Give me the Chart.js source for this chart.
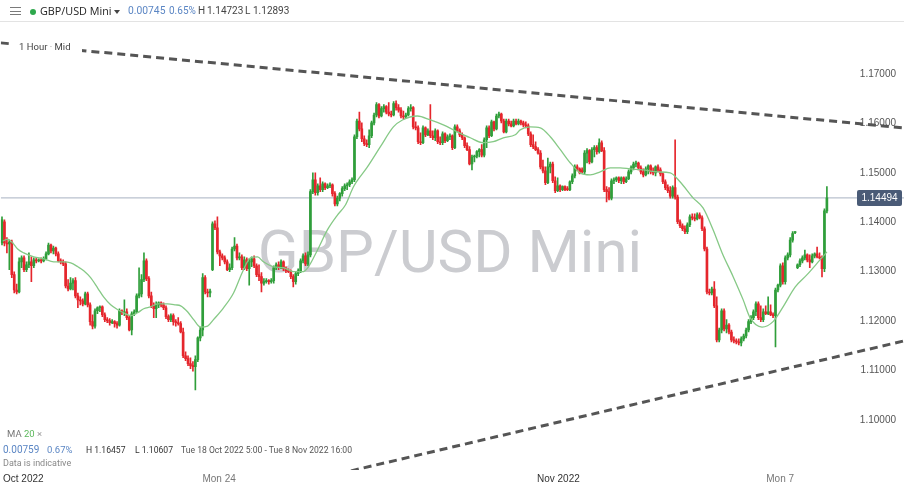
<!DOCTYPE html>
<html>
<head>
<meta charset="utf-8">
<script src="https://cdn.jsdelivr.net/npm/chart.js@4.4.0/dist/chart.umd.min.js"></script>
<style>
  html, body { margin: 0; padding: 0; background: #fff; }
  #wrap { position: relative; width: 904px; height: 488px; overflow: hidden; font-family: Roboto, "Open Sans", sans-serif; }
  #chart { position: absolute; left: 0; top: 0; }
  .abs { position: absolute; white-space: nowrap; }
  #head { left: 0; top: 0; width: 904px; height: 21px; border-bottom: 1px solid #e3e3e3; background: #fff; }
  .bar { position: absolute; left: 10px; width: 11px; height: 1.4px; background: #7a7a7a; }
  .hd { top: 0; line-height: 22px; font-size: 10px; color: #444; }
  .ft { font-size: 8.6px; color: #555; line-height: 12px; }
  .blue { color: #5b86c4; }
</style>
</head>
<body>
<div id="wrap">
  <canvas id="chart" width="904" height="488"></canvas>

  <div id="head" class="abs">
    <div class="bar" style="top:7px"></div>
    <div class="bar" style="top:10.5px"></div>
    <div class="bar" style="top:14px"></div>
    <div class="abs" style="left:29.5px;top:8.5px;width:6px;height:6px;border-radius:50%;background:#2ea84c"></div>
    <div class="abs hd" style="left:40px;color:#222;font-weight:500;font-size:10.8px;font-family:'Open Sans',sans-serif">GBP/USD Mini</div>
    <div class="abs" style="left:114px;top:10px;width:0;height:0;border-left:3px solid transparent;border-right:3px solid transparent;border-top:4px solid #444"></div>
    <div class="abs hd blue" style="left:128px;font-size:10.3px">0.00745</div>
    <div class="abs hd blue" style="left:169px">0.65%</div>
    <div class="abs hd" style="left:198px">H</div>
    <div class="abs hd" style="left:207px">1.14723</div>
    <div class="abs hd" style="left:245px">L</div>
    <div class="abs hd" style="left:253px">1.12893</div>
  </div>

  <div class="abs" style="left:12px;top:39px;width:70px;height:14px;background:#fff"></div>
  <div class="abs" style="left:19px;top:41px;font-size:9.5px;line-height:12px;color:#444">1 Hour <span style="color:#888">·</span> Mid</div>

  <div class="abs ft" style="left:7px;top:428px;font-size:9.5px;color:#777">MA <span style="color:#5cb85c">20</span> <span style="color:#999">×</span></div>
  <div class="abs ft blue" style="left:3px;top:444px;font-size:10px">0.00759</div>
  <div class="abs ft blue" style="left:47px;top:444px;font-size:9.5px">0.67%</div>
  <div class="abs ft" style="left:86px;top:444px;color:#333">H 1.16457</div>
  <div class="abs ft" style="left:135px;top:444px;color:#333">L 1.10607</div>
  <div class="abs ft" style="left:181px;top:444px">Tue 18 Oct 2022 5:00 - Tue 8 Nov 2022 16:00</div>
  <div class="abs ft" style="left:3px;top:457px;color:#888;font-size:9px">Data is indicative</div>
</div>

<script>
// Hourly candles, Tue 18 Oct 2022 → Mon 7 Nov 2022
var opens = [1.1358,1.1401,1.1358,1.1356,1.1360,1.1294,1.1263,1.1259,1.1320,1.1328,
  1.1304,1.1314,1.1320,1.1312,1.1324,1.1322,1.1324,1.1322,1.1326,1.1336,
  1.1354,1.1342,1.1348,1.1336,1.1322,1.1320,1.1316,1.1271,1.1265,1.1277,
  1.1282,1.1251,1.1243,1.1241,1.1235,1.1255,1.1233,1.1199,1.1190,1.1221,
  1.1227,1.1229,1.1213,1.1203,1.1201,1.1197,1.1199,1.1195,1.1192,1.1221,
  1.1217,1.1219,1.1207,1.1182,1.1215,1.1219,1.1251,1.1255,1.1284,1.1322,
  1.1286,1.1251,1.1231,1.1225,1.1233,1.1237,1.1233,1.1227,1.1209,1.1203,
  1.1211,1.1199,1.1197,1.1195,1.1178,1.1130,1.1124,1.1114,1.1110,1.1108,
  1.1122,1.1166,1.1182,1.1288,1.1259,1.1257,1.1304,1.1397,1.1389,1.1340,
  1.1332,1.1328,1.1320,1.1304,1.1308,1.1346,1.1352,1.1328,1.1330,1.1308,
  1.1324,1.1306,1.1320,1.1326,1.1312,1.1294,1.1290,1.1277,1.1280,1.1282,
  1.1280,1.1282,1.1308,1.1314,1.1308,1.1320,1.1306,1.1302,1.1300,1.1290,
  1.1280,1.1296,1.1302,1.1322,1.1332,1.1316,1.1334,1.1462,1.1486,1.1460,
  1.1474,1.1466,1.1478,1.1470,1.1474,1.1476,1.1458,1.1437,1.1449,1.1458,
  1.1468,1.1474,1.1476,1.1482,1.1486,1.1573,1.1605,1.1589,1.1569,1.1559,
  1.1557,1.1575,1.1601,1.1617,1.1638,1.1615,1.1630,1.1634,1.1623,1.1619,
  1.1617,1.1640,1.1632,1.1627,1.1615,1.1613,1.1617,1.1630,1.1632,1.1593,
  1.1591,1.1563,1.1561,1.1591,1.1577,1.1585,1.1575,1.1571,1.1585,1.1563,
  1.1561,1.1579,1.1565,1.1573,1.1575,1.1551,1.1593,1.1585,1.1577,1.1571,
  1.1555,1.1547,1.1518,1.1532,1.1534,1.1543,1.1547,1.1536,1.1567,1.1591,
  1.1575,1.1603,1.1589,1.1615,1.1619,1.1605,1.1583,1.1605,1.1599,1.1595,
  1.1605,1.1599,1.1605,1.1601,1.1597,1.1595,1.1579,1.1557,1.1553,1.1547,
  1.1540,1.1512,1.1504,1.1480,1.1512,1.1518,1.1484,1.1464,1.1474,1.1466,
  1.1472,1.1468,1.1466,1.1482,1.1494,1.1512,1.1508,1.1506,1.1502,1.1540,
  1.1545,1.1522,1.1547,1.1551,1.1543,1.1561,1.1545,1.1466,1.1462,1.1449,
  1.1484,1.1486,1.1490,1.1484,1.1490,1.1482,1.1488,1.1502,1.1510,1.1518,
  1.1520,1.1510,1.1502,1.1496,1.1508,1.1514,1.1502,1.1500,1.1512,1.1506,
  1.1498,1.1482,1.1470,1.1464,1.1453,1.1470,1.1451,1.1401,1.1393,1.1387,
  1.1381,1.1395,1.1411,1.1409,1.1407,1.1415,1.1409,1.1387,1.1346,1.1259,
  1.1257,1.1265,1.1231,1.1162,1.1182,1.1221,1.1184,1.1192,1.1178,1.1162,
  1.1160,1.1158,1.1156,1.1164,1.1170,1.1182,1.1199,1.1207,1.1219,1.1235,
  1.1207,1.1203,1.1219,1.1215,1.1219,1.1213,1.1211,1.1263,1.1273,1.1312,
  1.1280,1.1328,1.1334,1.1364,1.1379,1.1308,1.1314,1.1322,1.1328,1.1334,
  1.1324,1.1320,1.1332,1.1336,1.1330,1.1328,1.1306,1.1423];

var highs = [1.1411,1.1405,1.1369,1.1364,1.1364,1.1300,1.1275,1.1328,1.1332,1.1332,
  1.1320,1.1338,1.1330,1.1328,1.1328,1.1326,1.1328,1.1330,1.1340,1.1358,
  1.1356,1.1352,1.1350,1.1340,1.1326,1.1324,1.1320,1.1284,1.1288,1.1286,
  1.1288,1.1257,1.1249,1.1245,1.1259,1.1259,1.1237,1.1213,1.1225,1.1229,
  1.1231,1.1231,1.1217,1.1207,1.1205,1.1203,1.1201,1.1199,1.1225,1.1223,
  1.1243,1.1225,1.1211,1.1219,1.1223,1.1255,1.1308,1.1294,1.1338,1.1326,
  1.1290,1.1259,1.1237,1.1239,1.1239,1.1239,1.1237,1.1231,1.1213,1.1215,
  1.1215,1.1203,1.1207,1.1199,1.1186,1.1138,1.1130,1.1126,1.1118,1.1130,
  1.1168,1.1188,1.1296,1.1292,1.1265,1.1265,1.1401,1.1403,1.1411,1.1344,
  1.1336,1.1332,1.1324,1.1316,1.1350,1.1369,1.1356,1.1338,1.1334,1.1330,
  1.1328,1.1326,1.1330,1.1332,1.1316,1.1314,1.1298,1.1286,1.1286,1.1284,
  1.1286,1.1312,1.1318,1.1320,1.1324,1.1322,1.1310,1.1306,1.1304,1.1294,
  1.1300,1.1306,1.1326,1.1336,1.1338,1.1340,1.1466,1.1500,1.1500,1.1478,
  1.1490,1.1482,1.1480,1.1478,1.1480,1.1478,1.1462,1.1453,1.1460,1.1472,
  1.1478,1.1480,1.1486,1.1490,1.1577,1.1609,1.1623,1.1601,1.1575,1.1567,
  1.1587,1.1605,1.1621,1.1642,1.1640,1.1634,1.1638,1.1636,1.1642,1.1625,
  1.1644,1.16457,1.1638,1.1632,1.1625,1.1621,1.1634,1.1638,1.1634,1.1603,
  1.1595,1.1581,1.1595,1.1593,1.1589,1.1638,1.1585,1.1589,1.1587,1.1573,
  1.1583,1.1581,1.1577,1.1579,1.1577,1.1597,1.1597,1.1589,1.1581,1.1573,
  1.1561,1.1553,1.1536,1.1536,1.1545,1.1549,1.1557,1.1571,1.1595,1.1595,
  1.1607,1.1605,1.1619,1.1623,1.1621,1.1609,1.1609,1.1609,1.1605,1.1609,
  1.1609,1.1609,1.1607,1.1605,1.1603,1.1599,1.1583,1.1577,1.1563,1.1551,
  1.1545,1.1526,1.1512,1.1530,1.1522,1.1522,1.1492,1.1490,1.1476,1.1474,
  1.1474,1.1472,1.1484,1.1498,1.1516,1.1516,1.1510,1.1510,1.1545,1.1549,
  1.1547,1.1551,1.1555,1.1555,1.1569,1.1565,1.1551,1.1472,1.1470,1.1488,
  1.1490,1.1492,1.1492,1.1492,1.1492,1.1492,1.1506,1.1514,1.1522,1.1524,
  1.1522,1.1514,1.1508,1.1512,1.1516,1.1516,1.1510,1.1514,1.1516,1.1510,
  1.1500,1.1486,1.1476,1.1472,1.1474,1.1567,1.1455,1.1405,1.1397,1.1393,
  1.1399,1.1415,1.1417,1.1417,1.1419,1.1419,1.1413,1.1391,1.1350,1.1265,
  1.1269,1.1280,1.1249,1.1186,1.1225,1.1225,1.1203,1.1195,1.1182,1.1168,
  1.1164,1.1164,1.1168,1.1174,1.1186,1.1203,1.1211,1.1223,1.1239,1.1239,
  1.1231,1.1225,1.1231,1.1249,1.1233,1.1217,1.1267,1.1275,1.1316,1.1318,
  1.1332,1.1338,1.1369,1.1381,1.1381,1.1316,1.1326,1.1332,1.1344,1.1336,
  1.1334,1.1336,1.1338,1.1350,1.1338,1.1332,1.1427,1.14723];

var lows = [1.1354,1.1352,1.1338,1.1304,1.1288,1.1257,1.1255,1.1257,1.1308,1.1300,
  1.1300,1.1308,1.1280,1.1308,1.1318,1.1320,1.1318,1.1320,1.1324,1.1334,
  1.1338,1.1336,1.1332,1.1320,1.1316,1.1312,1.1267,1.1261,1.1263,1.1263,
  1.1247,1.1227,1.1233,1.1231,1.1233,1.1229,1.1192,1.1184,1.1186,1.1215,
  1.1219,1.1209,1.1199,1.1197,1.1192,1.1195,1.1188,1.1186,1.1190,1.1213,
  1.1211,1.1203,1.1180,1.1172,1.1211,1.1217,1.1247,1.1249,1.1280,1.1282,
  1.1247,1.1227,1.1207,1.1207,1.1227,1.1229,1.1223,1.1205,1.1199,1.1199,
  1.1192,1.1190,1.1192,1.1176,1.1126,1.1120,1.1110,1.1104,1.1099,1.10607,
  1.1118,1.1160,1.1170,1.1255,1.1249,1.1249,1.1302,1.1385,1.1336,1.1312,
  1.1324,1.1316,1.1302,1.1300,1.1304,1.1342,1.1324,1.1324,1.1304,1.1304,
  1.1302,1.1273,1.1310,1.1308,1.1290,1.1282,1.1259,1.1273,1.1277,1.1275,
  1.1277,1.1277,1.1304,1.1304,1.1306,1.1302,1.1298,1.1298,1.1286,1.1269,
  1.1275,1.1292,1.1298,1.1318,1.1312,1.1312,1.1330,1.1458,1.1455,1.1455,
  1.1462,1.1462,1.1466,1.1468,1.1470,1.1453,1.1433,1.1433,1.1443,1.1453,
  1.1464,1.1466,1.1472,1.1478,1.1482,1.1569,1.1585,1.1563,1.1555,1.1553,
  1.1551,1.1571,1.1597,1.1613,1.1611,1.1613,1.1623,1.1619,1.1615,1.1613,
  1.1615,1.1627,1.1623,1.1611,1.1609,1.1611,1.1615,1.1625,1.1589,1.1587,
  1.1559,1.1557,1.1559,1.1573,1.1575,1.1571,1.1567,1.1565,1.1559,1.1557,
  1.1557,1.1561,1.1563,1.1567,1.1547,1.1549,1.1583,1.1573,1.1567,1.1551,
  1.1545,1.1516,1.1506,1.1522,1.1530,1.1532,1.1532,1.1532,1.1551,1.1571,
  1.1573,1.1585,1.1587,1.1611,1.1601,1.1581,1.1581,1.1595,1.1593,1.1593,
  1.1597,1.1597,1.1597,1.1593,1.1591,1.1575,1.1553,1.1549,1.1545,1.1538,
  1.1508,1.1500,1.1476,1.1478,1.1500,1.1480,1.1460,1.1462,1.1462,1.1464,
  1.1464,1.1464,1.1464,1.1478,1.1490,1.1504,1.1498,1.1500,1.1498,1.1520,
  1.1518,1.1520,1.1532,1.1538,1.1540,1.1543,1.1462,1.1441,1.1445,1.1445,
  1.1478,1.1482,1.1480,1.1478,1.1478,1.1480,1.1486,1.1498,1.1506,1.1512,
  1.1506,1.1498,1.1492,1.1494,1.1498,1.1498,1.1496,1.1494,1.1502,1.1494,
  1.1478,1.1466,1.1460,1.1449,1.1449,1.1447,1.1397,1.1389,1.1383,1.1377,
  1.1377,1.1391,1.1405,1.1403,1.1405,1.1407,1.1383,1.1342,1.1255,1.1253,
  1.1253,1.1227,1.1158,1.1158,1.1176,1.1180,1.1176,1.1174,1.1158,1.1156,
  1.1154,1.1152,1.1150,1.1160,1.1166,1.1178,1.1195,1.1203,1.1211,1.1203,
  1.1199,1.1199,1.1213,1.1213,1.1211,1.1207,1.1148,1.1259,1.1269,1.1275,
  1.1275,1.1324,1.1330,1.1360,1.1377,1.1306,1.1310,1.1318,1.1324,1.1320,
  1.1308,1.1318,1.1328,1.1328,1.1326,1.12893,1.1300,1.1419];

var closes = [1.1405,1.1358,1.1356,1.1360,1.1294,1.1263,1.1259,1.1320,1.1328,1.1304,
  1.1314,1.1320,1.1312,1.1324,1.1322,1.1324,1.1322,1.1326,1.1336,1.1354,
  1.1342,1.1348,1.1336,1.1322,1.1320,1.1316,1.1271,1.1265,1.1277,1.1282,
  1.1251,1.1243,1.1241,1.1235,1.1255,1.1233,1.1199,1.1190,1.1221,1.1227,
  1.1229,1.1213,1.1203,1.1201,1.1197,1.1199,1.1195,1.1192,1.1221,1.1217,
  1.1219,1.1207,1.1182,1.1215,1.1219,1.1251,1.1255,1.1284,1.1322,1.1286,
  1.1251,1.1231,1.1225,1.1233,1.1237,1.1233,1.1227,1.1209,1.1203,1.1211,
  1.1199,1.1197,1.1195,1.1178,1.1130,1.1124,1.1114,1.1110,1.1108,1.1122,
  1.1166,1.1182,1.1288,1.1259,1.1257,1.1261,1.1397,1.1389,1.1340,1.1332,
  1.1328,1.1320,1.1304,1.1308,1.1346,1.1352,1.1328,1.1330,1.1308,1.1324,
  1.1306,1.1320,1.1326,1.1312,1.1294,1.1290,1.1277,1.1280,1.1282,1.1280,
  1.1282,1.1308,1.1314,1.1308,1.1320,1.1306,1.1302,1.1300,1.1290,1.1280,
  1.1296,1.1302,1.1322,1.1332,1.1316,1.1334,1.1462,1.1486,1.1460,1.1474,
  1.1466,1.1478,1.1470,1.1474,1.1476,1.1458,1.1437,1.1449,1.1458,1.1468,
  1.1474,1.1476,1.1482,1.1486,1.1573,1.1605,1.1589,1.1569,1.1559,1.1557,
  1.1575,1.1601,1.1617,1.1638,1.1615,1.1630,1.1634,1.1623,1.1619,1.1617,
  1.1640,1.1632,1.1627,1.1615,1.1613,1.1617,1.1630,1.1632,1.1593,1.1591,
  1.1563,1.1561,1.1591,1.1577,1.1585,1.1575,1.1571,1.1585,1.1563,1.1561,
  1.1579,1.1565,1.1573,1.1575,1.1551,1.1593,1.1585,1.1577,1.1571,1.1555,
  1.1547,1.1518,1.1532,1.1534,1.1543,1.1547,1.1536,1.1567,1.1591,1.1575,
  1.1603,1.1589,1.1615,1.1619,1.1605,1.1583,1.1605,1.1599,1.1595,1.1605,
  1.1599,1.1605,1.1601,1.1597,1.1595,1.1579,1.1557,1.1553,1.1547,1.1540,
  1.1512,1.1504,1.1480,1.1512,1.1518,1.1484,1.1464,1.1474,1.1466,1.1472,
  1.1466,1.1466,1.1482,1.1494,1.1512,1.1508,1.1500,1.1502,1.1540,1.1545,
  1.1522,1.1547,1.1551,1.1543,1.1561,1.1545,1.1466,1.1462,1.1449,1.1484,
  1.1486,1.1490,1.1484,1.1490,1.1482,1.1488,1.1502,1.1510,1.1518,1.1520,
  1.1510,1.1502,1.1496,1.1508,1.1514,1.1502,1.1500,1.1512,1.1506,1.1498,
  1.1482,1.1470,1.1464,1.1453,1.1470,1.1451,1.1401,1.1393,1.1387,1.1381,
  1.1395,1.1411,1.1409,1.1407,1.1415,1.1409,1.1387,1.1346,1.1259,1.1257,
  1.1265,1.1231,1.1162,1.1182,1.1221,1.1184,1.1192,1.1178,1.1162,1.1160,
  1.1158,1.1156,1.1164,1.1170,1.1182,1.1199,1.1207,1.1219,1.1235,1.1207,
  1.1203,1.1219,1.1215,1.1219,1.1213,1.1211,1.1263,1.1273,1.1312,1.1280,
  1.1328,1.1334,1.1364,1.1377,1.1381,1.1314,1.1322,1.1328,1.1334,1.1324,
  1.1320,1.1332,1.1336,1.1330,1.1328,1.1306,1.1423,1.14494];

// MA 20 line (candle index, value)
var maIdx = [0.3,2.4,4.4,6.4,8.9,13,17.1,21.1,25.2,28.1,31,33.4,36.2,39.1,41.5,44.4,47.3,49.7,52.6,55.4,
  57.9,60.7,63.6,67.7,70.9,73,75.8,78.3,81.1,84,86.4,90.5,94.6,98.3,101.5,104.4,106.8,110.9,115,119.1,
  122.8,125.2,128.9,133,137.1,140.3,143.6,149.3,154.6,159.9,163.6,169.7,175,180.3,186,191.3,196.6,200.7,204.8,209.7,
  211.7,215.8,219.9,224,228.1,232.2,236.2,240.3,244.4,248.5,252.6,256.6,262,267.7,273,277,282.4,286.4,290.5,294.2,
  298.7,302.8,305.6,310.5,315,319.1,324,328.9,334.2,337];
var maVals = [1.1362,1.1366,1.1358,1.1346,1.1338,1.1330,1.1326,1.1320,1.1320,1.1318,1.1310,1.1302,1.1288,1.1267,1.1249,1.1233,1.1223,1.1217,1.1211,1.1217,
  1.1225,1.1229,1.1235,1.1235,1.1233,1.1231,1.1219,1.1203,1.1188,1.1190,1.1203,1.1227,1.1257,1.1300,1.1328,1.1330,1.1320,1.1310,1.1308,1.1300,
  1.1300,1.1310,1.1344,1.1385,1.1415,1.1435,1.1472,1.1512,1.1553,1.1593,1.1607,1.1615,1.1607,1.1597,1.1583,1.1571,1.1561,1.1563,1.1571,1.1577,
  1.1587,1.1593,1.1591,1.1573,1.1547,1.1520,1.1500,1.1496,1.1502,1.1510,1.1510,1.1508,1.1506,1.1502,1.1500,1.1482,1.1449,1.1429,1.1385,1.1338,
  1.1290,1.1243,1.1207,1.1188,1.1199,1.1229,1.1269,1.1294,1.1324,1.1340];

// trend lines (two anchor points each)
var upperIdx = [-0.5, 368.5];
var upperVal = [1.1763, 1.1591];
var lowerIdx = [121.9, 368.5];
var lowerVal = [1.0873, 1.1160];

var xTickIdx = [8.7, 88.7, 227.3, 317.9];
var xTickLabels = ["Oct 2022", "Mon 24", "Nov 2022", "Mon 7"];
var xTickColors = ["#333", "#777", "#333", "#777"];
var yTicks = [1.10, 1.11, 1.12, 1.13, 1.14, 1.15, 1.16, 1.17];

var lastPrice = closes[closes.length - 1];
var GREEN = "#2f9e3a", RED = "#e5262c";

function candleColor(ctx) {
  var i = ctx.dataIndex;
  return closes[i] >= opens[i] ? GREEN : RED;
}

var wickData = opens.map(function(o, i) { return { x: i, y: [lows[i], highs[i]] }; });
var bodyData = opens.map(function(o, i) { return { x: i, y: [opens[i], closes[i]] }; });
var maData = maIdx.map(function(x, i) { return { x: x, y: maVals[i] }; });
var upperData = upperIdx.map(function(x, i) { return { x: x, y: upperVal[i] }; });
var lowerData = lowerIdx.map(function(x, i) { return { x: x, y: lowerVal[i] }; });
var priceLine = [{ x: -0.5, y: lastPrice }, { x: 368.5, y: lastPrice }];

Chart.defaults.font.family = '"Liberation Sans", Arial, sans-serif';

var watermark = {
  id: "watermark",
  beforeDraw: function(chart) {
    var ctx = chart.ctx;
    ctx.save();
    ctx.font = '60px Roboto';
    ctx.fillStyle = "#cbccd0";
    ctx.textAlign = "center";
    ctx.textBaseline = "alphabetic";
    ctx.fillText("GBP/USD Mini", 450, 272);
    ctx.restore();
  }
};

var priceTag = {
  id: "priceTag",
  afterDraw: function(chart) {
    var ctx = chart.ctx;
    var y = chart.scales.y.getPixelForValue(lastPrice);
    ctx.save();
    ctx.fillStyle = "#4a5b77";
    ctx.beginPath();
    ctx.roundRect(857, Math.round(y) - 8, 45, 16, 2);
    ctx.fill();
    ctx.fillStyle = "#fff";
    ctx.font = '10px "Liberation Sans", Arial';
    ctx.textAlign = "center";
    ctx.textBaseline = "middle";
    ctx.fillText(lastPrice.toFixed(5), 879.5, Math.round(y) + 0.5);
    ctx.restore();
  }
};

new Chart(document.getElementById("chart"), {
  type: "bar",
  data: {
    datasets: [
      { type: "line", data: maData, borderColor: "#86c986", borderWidth: 1.3, pointRadius: 0,
        cubicInterpolationMode: "monotone", order: 1 },
      { data: bodyData, backgroundColor: candleColor, barThickness: 2, minBarLength: 1,
        grouped: false, borderWidth: 0, borderSkipped: false, order: 2 },
      { data: wickData, backgroundColor: candleColor, barThickness: 1,
        grouped: false, borderWidth: 0, borderSkipped: false, order: 3 },
      { type: "line", data: upperData, borderColor: "#555", borderWidth: 3, borderDash: [8, 5],
        pointRadius: 0, order: 4 },
      { type: "line", data: lowerData, borderColor: "#555", borderWidth: 3, borderDash: [8, 5],
        pointRadius: 0, order: 4 },
      { type: "line", data: priceLine, borderColor: "#b9c1ce", borderWidth: 1.2,
        pointRadius: 0, order: 6 }
    ]
  },
  options: {
    responsive: false,
    animation: false,
    devicePixelRatio: 1,
    layout: { padding: { top: 23, left: 0, right: 0, bottom: 0 } },
    plugins: { legend: { display: false }, tooltip: { enabled: false } },
    scales: {
      x: {
        type: "linear", min: -0.5, max: 368.5, offset: false,
        grid: { display: false, drawTicks: false },
        border: { display: false },
        afterBuildTicks: function(scale) {
          scale.ticks = xTickIdx.map(function(v) { return { value: v }; });
        },
        ticks: {
          autoSkip: false, maxRotation: 0, padding: 3,
          font: { size: 10 },
          color: function(c) { return xTickColors[c.index]; },
          callback: function(v, i) { return xTickLabels[i]; }
        }
      },
      y: {
        type: "linear", position: "right", min: 1.08988, max: 1.18032,
        grid: { display: false, drawTicks: false },
        border: { display: false },
        afterBuildTicks: function(scale) {
          scale.ticks = yTicks.map(function(v) { return { value: v }; });
        },
        afterFit: function(scale) { scale.width = 0; },
        ticks: {
          mirror: true, padding: -8,
          font: { size: 10 }, color: "#555",
          callback: function(v) { return v.toFixed(5); }
        }
      }
    }
  },
  plugins: [watermark, priceTag]
});
</script>
</body>
</html>
